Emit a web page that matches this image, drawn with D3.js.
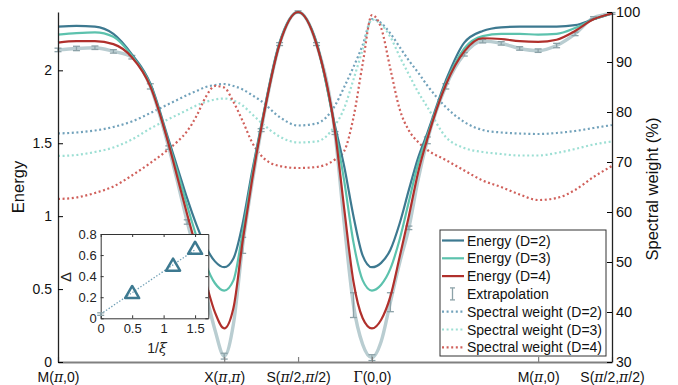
<!DOCTYPE html>
<html><head><meta charset="utf-8">
<script src="https://cdn.jsdelivr.net/npm/d3@7"></script>
<style>
body{margin:0;background:#fff;}
svg{display:block;font-family:"Liberation Sans",Arial,Helvetica,sans-serif;}
</style></head><body>
<svg id="c" width="678" height="385"></svg>
<script>
// ---------- data ----------
const kTicks  = [0, 9, 13, 17, 26, 30];
const kLabels = ["M(π,0)", "X(π,π)", "S(π/2,π/2)", "Γ(0,0)", "M(π,0)", "S(π/2,π/2)"];
const energyTicks = [0, 0.5, 1, 1.5, 2];
const weightTicks = [30, 40, 50, 60, 70, 80, 90, 100];

const kGrid = [0,1,2,3,4,5,6,6.5,7,7.5,8,8.5,9,9.5,10,10.5,11,12,13,14,15,15.5,16,16.5,17,17.5,18,18.5,19,19.5,20,21,22,23,24,25,26,27,28,29,30];

const energyD2 = [2.30,2.305,2.30,2.25,2.11,1.91,1.52,1.32,1.12,0.94,0.79,0.69,0.65,0.71,0.95,1.30,1.62,2.19,2.40,2.19,1.62,1.34,1.00,0.73,0.65,0.68,0.77,0.95,1.18,1.40,1.57,1.93,2.19,2.27,2.295,2.30,2.30,2.30,2.31,2.35,2.39];
const energyD3 = [2.245,2.255,2.26,2.23,2.10,1.90,1.50,1.29,1.07,0.86,0.67,0.54,0.49,0.56,0.89,1.27,1.61,2.185,2.40,2.185,1.60,1.24,0.82,0.56,0.49,0.53,0.64,0.84,1.10,1.36,1.55,1.91,2.15,2.235,2.25,2.25,2.245,2.25,2.29,2.35,2.39];
const energyD4 = [2.19,2.20,2.20,2.18,2.09,1.89,1.49,1.25,1.01,0.78,0.55,0.34,0.23,0.37,0.83,1.24,1.60,2.18,2.40,2.18,1.58,1.05,0.55,0.30,0.23,0.29,0.45,0.72,1.00,1.30,1.53,1.90,2.13,2.22,2.215,2.20,2.195,2.21,2.27,2.35,2.39];
const energyExt = [2.14,2.15,2.155,2.13,2.09,1.89,1.47,1.22,0.96,0.72,0.47,0.22,0.04,0.26,0.80,1.22,1.59,2.18,2.40,2.18,1.57,0.95,0.39,0.12,0.03,0.14,0.41,0.68,0.92,1.25,1.52,1.89,2.11,2.20,2.185,2.15,2.135,2.17,2.25,2.36,2.39];

const weightD2 = [75.7,75.9,76.3,77.0,78.1,79.8,81.6,82.5,83.4,84.2,85.0,85.4,85.6,85.2,84.5,83.4,82.2,79.0,77.3,77.7,81.3,85.0,89.0,93.4,98.6,97.8,95.7,93.0,90.3,87.9,85.3,81.0,78.0,76.4,75.9,75.7,75.6,75.8,76.2,76.8,77.4];
const weightD3 = [71.2,71.4,72.0,72.9,74.5,76.7,78.6,79.5,80.4,81.3,82.0,82.5,82.7,82.3,81.3,79.6,77.9,75.1,73.9,74.1,77.3,80.8,86.5,92.5,98.5,97.5,95.0,91.1,87.5,84.0,81.0,75.0,72.8,72.0,71.6,71.3,71.3,71.8,72.6,73.5,74.1];
const weightD4 = [62.6,62.9,63.8,65.1,67.3,69.8,72.6,74.2,76.2,79.2,83.0,85.2,84.9,82.0,78.2,74.0,71.3,69.2,68.8,69.0,70.5,72.2,78.9,89.7,99.4,96.8,88.6,80.6,76.3,74.0,72.4,70.4,68.3,66.3,65.0,63.5,62.4,62.8,64.4,67.0,69.2];

const errK   = [0,1,2,3,4,5,6,7,8,9,10,11,12,13,14,15,16,17,18,19,20,21,22,23,24,25,26,27,28,29,30];
const errE   = [2.14,2.15,2.155,2.13,2.09,1.89,1.47,0.96,0.47,0.04,0.80,1.59,2.18,2.40,2.18,1.57,0.39,0.03,0.41,0.92,1.52,1.89,2.11,2.20,2.185,2.15,2.135,2.17,2.25,2.36,2.39];
const errD   = [0.012,0.015,0.012,0.012,0.012,0.018,0.012,0.015,0.02,0.02,0.055,0.01,0.01,0.008,0.01,0.01,0.085,0.02,0.065,0.012,0.023,0.018,0.012,0.012,0.012,0.012,0.012,0.015,0.012,0.008,0.006];

const insetInvXi = [0.5, 1.15, 1.5];
const insetGap   = [0.23, 0.49, 0.65];
const insetExtrap = {x: 0, y: 0.04, err: 0.012};
const insetFitX = [0, 1.5];
const insetFitY = [0.04, 0.65];
const insetXTicks = [0, 0.5, 1, 1.5];
const insetYTicks = [0, 0.2, 0.4, 0.6, 0.8];

const legendLabels = ["Energy (D=2)","Energy (D=3)","Energy (D=4)","Extrapolation","Spectral weight (D=2)","Spectral weight (D=3)","Spectral weight (D=4)"];

// ---------- styles ----------
const cD2 = "#3d7990", cD3 = "#5cc2ad", cD4 = "#b0302c";
const cExt = "#b9cdd1", cErr = "#8ca2a8";
const cW2 = "#72a2bb", cW3 = "#9ddfd4", cW4 = "#d0605b";
const dotDash = "2 2.6";

const svg = d3.select("#c");
const x  = d3.scaleLinear().domain([0,30]).range([58,612]);
const y  = d3.scaleLinear().domain([0,2.4]).range([362,12]);
const y2 = d3.scaleLinear().domain([30,100]).range([362,12]);

const lineE = d3.line().x((d,i)=>x(kGrid[i])).y(d=>y(d)).curve(d3.curveMonotoneX);
const lineW = d3.line().x((d,i)=>x(kGrid[i])).y(d=>y2(d)).curve(d3.curveMonotoneX);

// spectral weights (dotted)
[[weightD2,cW2],[weightD3,cW3],[weightD4,cW4]].forEach(([arr,c])=>{
  svg.append("path").attr("d", lineW(arr)).attr("fill","none")
    .attr("stroke",c).attr("stroke-width",2.2).attr("stroke-dasharray",dotDash);
});

// extrapolation line
svg.append("path").attr("d", lineE(energyExt)).attr("fill","none")
  .attr("stroke",cExt).attr("stroke-width",3.4);

// error bars
const eb = svg.append("g").attr("stroke",cErr).attr("stroke-width",1.3);
errK.forEach((k,i)=>{
  const cx = x(k), y0 = y(errE[i]-errD[i]), y1 = y(errE[i]+errD[i]);
  eb.append("line").attr("x1",cx).attr("x2",cx).attr("y1",y0).attr("y2",y1);
  eb.append("line").attr("x1",cx-3.5).attr("x2",cx+3.5).attr("y1",y0).attr("y2",y0);
  eb.append("line").attr("x1",cx-3.5).attr("x2",cx+3.5).attr("y1",y1).attr("y2",y1);
});

// energies
[[energyD2,cD2],[energyD3,cD3],[energyD4,cD4]].forEach(([arr,c])=>{
  svg.append("path").attr("d", lineE(arr)).attr("fill","none")
    .attr("stroke",c).attr("stroke-width",2.2);
});

// ---------- axes ----------
const gx = svg.append("g").attr("transform","translate(0,362)")
  .call(d3.axisBottom(x).tickValues(kTicks).tickSize(-5).tickSizeOuter(0).tickPadding(10)
        .tickFormat((d,i)=>kLabels[i]));
gx.select(".domain").attr("stroke","#808080").attr("stroke-width",2);
gx.selectAll(".tick line").attr("stroke","#808080").attr("stroke-width",1.2);
gx.selectAll(".tick text").attr("font-size",14).attr("fill","#111")
  .attr("font-family",'"Liberation Sans",Arial,sans-serif')
  .each(function(d,i){
    const t = d3.select(this), lab = kLabels[i];
    t.text(null);
    for (const ch of lab) {
      const ts = t.append("tspan").text(ch);
      if (ch === "π") ts.attr("font-family",'"DejaVu Serif","Liberation Serif",serif').attr("font-style","italic");
      if (ch === "Γ") ts.attr("font-family",'"Liberation Serif","DejaVu Serif",serif').attr("font-size",16);
    }
  });

const gy = svg.append("g").attr("transform","translate(58,0)")
  .call(d3.axisLeft(y).tickValues(energyTicks).tickSize(-5).tickSizeOuter(0).tickPadding(6)
        .tickFormat(d3.format("")));
gy.select(".domain").attr("stroke","#222").attr("stroke-width",1.3);
gy.selectAll(".tick text").attr("font-size",14).attr("fill","#111");

const gy2 = svg.append("g").attr("transform","translate(612,0)")
  .call(d3.axisRight(y2).tickValues(weightTicks).tickSize(-5).tickSizeOuter(0).tickPadding(4)
        .tickFormat(d3.format("")));
gy2.select(".domain").attr("stroke","#222").attr("stroke-width",1.3);
gy2.selectAll(".tick text").attr("font-size",14.5).attr("fill","#111");
gy2.selectAll(".tick text").filter(d=>d===30).attr("font-size",14);

// titles
svg.append("text").attr("transform","translate(24,187) rotate(-90)")
  .attr("text-anchor","middle").attr("font-size",16.5).attr("fill","#111").text("Energy");
svg.append("text").attr("transform","translate(658,189) rotate(-90)")
  .attr("text-anchor","middle").attr("font-size",16.5).attr("fill","#111").text("Spectral weight (%)");

// ---------- inset ----------
const ix = d3.scaleLinear().domain([0,1.71]).range([100.7,208.3]);
const iy = d3.scaleLinear().domain([0,0.8]).range([318.3,234]);
const ins = svg.append("g");
ins.append("rect").attr("x",100.7).attr("y",234).attr("width",107.6).attr("height",84.3)
  .attr("fill","#fff");
const ib = ins.append("g").attr("transform","translate(0,318.3)")
  .call(d3.axisBottom(ix).tickValues(insetXTicks).tickSize(-3).tickSizeOuter(0).tickPadding(5).tickFormat(d3.format("")));
const it = ins.append("g").attr("transform","translate(0,234)")
  .call(d3.axisTop(ix).tickValues(insetXTicks).tickSize(-3).tickSizeOuter(0).tickFormat(""));
const il = ins.append("g").attr("transform","translate(100.7,0)")
  .call(d3.axisLeft(iy).tickValues(insetYTicks).tickSize(-3).tickSizeOuter(0).tickPadding(4).tickFormat(d3.format("")));
const ir = ins.append("g").attr("transform","translate(208.3,0)")
  .call(d3.axisRight(iy).tickValues(insetYTicks).tickSize(-3).tickSizeOuter(0).tickFormat(""));
[ib,it,il,ir].forEach(g=>{
  g.select(".domain").attr("stroke","#333").attr("stroke-width",1);
  g.selectAll(".tick line").attr("stroke","#333");
  g.selectAll(".tick text").attr("font-size",13).attr("fill","#222");
});
// fit line
ins.append("line").attr("x1",ix(insetFitX[0])).attr("y1",iy(insetFitY[0]))
  .attr("x2",ix(insetFitX[1])).attr("y2",iy(insetFitY[1]))
  .attr("stroke","#6f9fb5").attr("stroke-width",1.3).attr("stroke-dasharray","1.4 1.8");
// extrapolated point error bar
{
  const cx = ix(insetExtrap.x), a = iy(insetExtrap.y-insetExtrap.err), b = iy(insetExtrap.y+insetExtrap.err);
  const g = ins.append("g").attr("stroke",cErr).attr("stroke-width",1.3);
  g.append("line").attr("x1",cx).attr("x2",cx).attr("y1",a).attr("y2",b);
  g.append("line").attr("x1",cx-3.5).attr("x2",cx+3.5).attr("y1",a).attr("y2",a);
  g.append("line").attr("x1",cx-3.5).attr("x2",cx+3.5).attr("y1",b).attr("y2",b);
}
ins.selectAll("path.tri").data(insetInvXi).enter().append("path").attr("class","tri")
  .attr("d", d3.symbol(d3.symbolTriangle).size(85))
  .attr("transform",(d,i)=>`translate(${ix(d)},${iy(insetGap[i])})`)
  .attr("fill","none").attr("stroke",cD2).attr("stroke-width",2.5).attr("stroke-linejoin","round");
ins.append("text").attr("transform","translate(71,277) rotate(-90)")
  .attr("text-anchor","middle").attr("font-size",15).attr("fill","#222").text("Δ");
const xl = ins.append("text").attr("x",157).attr("y",353).attr("text-anchor","middle")
  .attr("font-size",14).attr("fill","#222");
xl.append("tspan").text("1/");
xl.append("tspan").attr("font-family",'"DejaVu Serif","Liberation Serif",serif').attr("font-style","italic").text("ξ");

// ---------- legend ----------
const lg = svg.append("g");
lg.append("rect").attr("x",440).attr("y",230).attr("width",166).attr("height",126)
  .attr("fill","#fff").attr("stroke","#333").attr("stroke-width",1);
const lstyles = [
  {c:cD2,t:"solid"},{c:cD3,t:"solid"},{c:cD4,t:"solid"},{c:cErr,t:"err"},
  {c:cW2,t:"dot"},{c:cW3,t:"dot"},{c:cW4,t:"dot"}];
legendLabels.forEach((lab,i)=>{
  const yy = 240.5 + i*17.8, s = lstyles[i];
  if (s.t === "err") {
    const g = lg.append("g").attr("stroke",cErr).attr("stroke-width",1.3);
    g.append("line").attr("x1",452.5).attr("x2",452.5).attr("y1",yy-6).attr("y2",yy+6);
    g.append("line").attr("x1",450).attr("x2",455).attr("y1",yy-6).attr("y2",yy-6);
    g.append("line").attr("x1",450).attr("x2",455).attr("y1",yy+6).attr("y2",yy+6);
  } else {
    const l = lg.append("line").attr("x1",442).attr("x2",464).attr("y1",yy).attr("y2",yy)
      .attr("stroke",s.c).attr("stroke-width",2.2);
    if (s.t === "dot") l.attr("stroke-dasharray",dotDash);
  }
  lg.append("text").attr("x",467).attr("y",yy+5).attr("font-size",14).attr("fill","#111").text(lab);
});
</script>
</body></html>
